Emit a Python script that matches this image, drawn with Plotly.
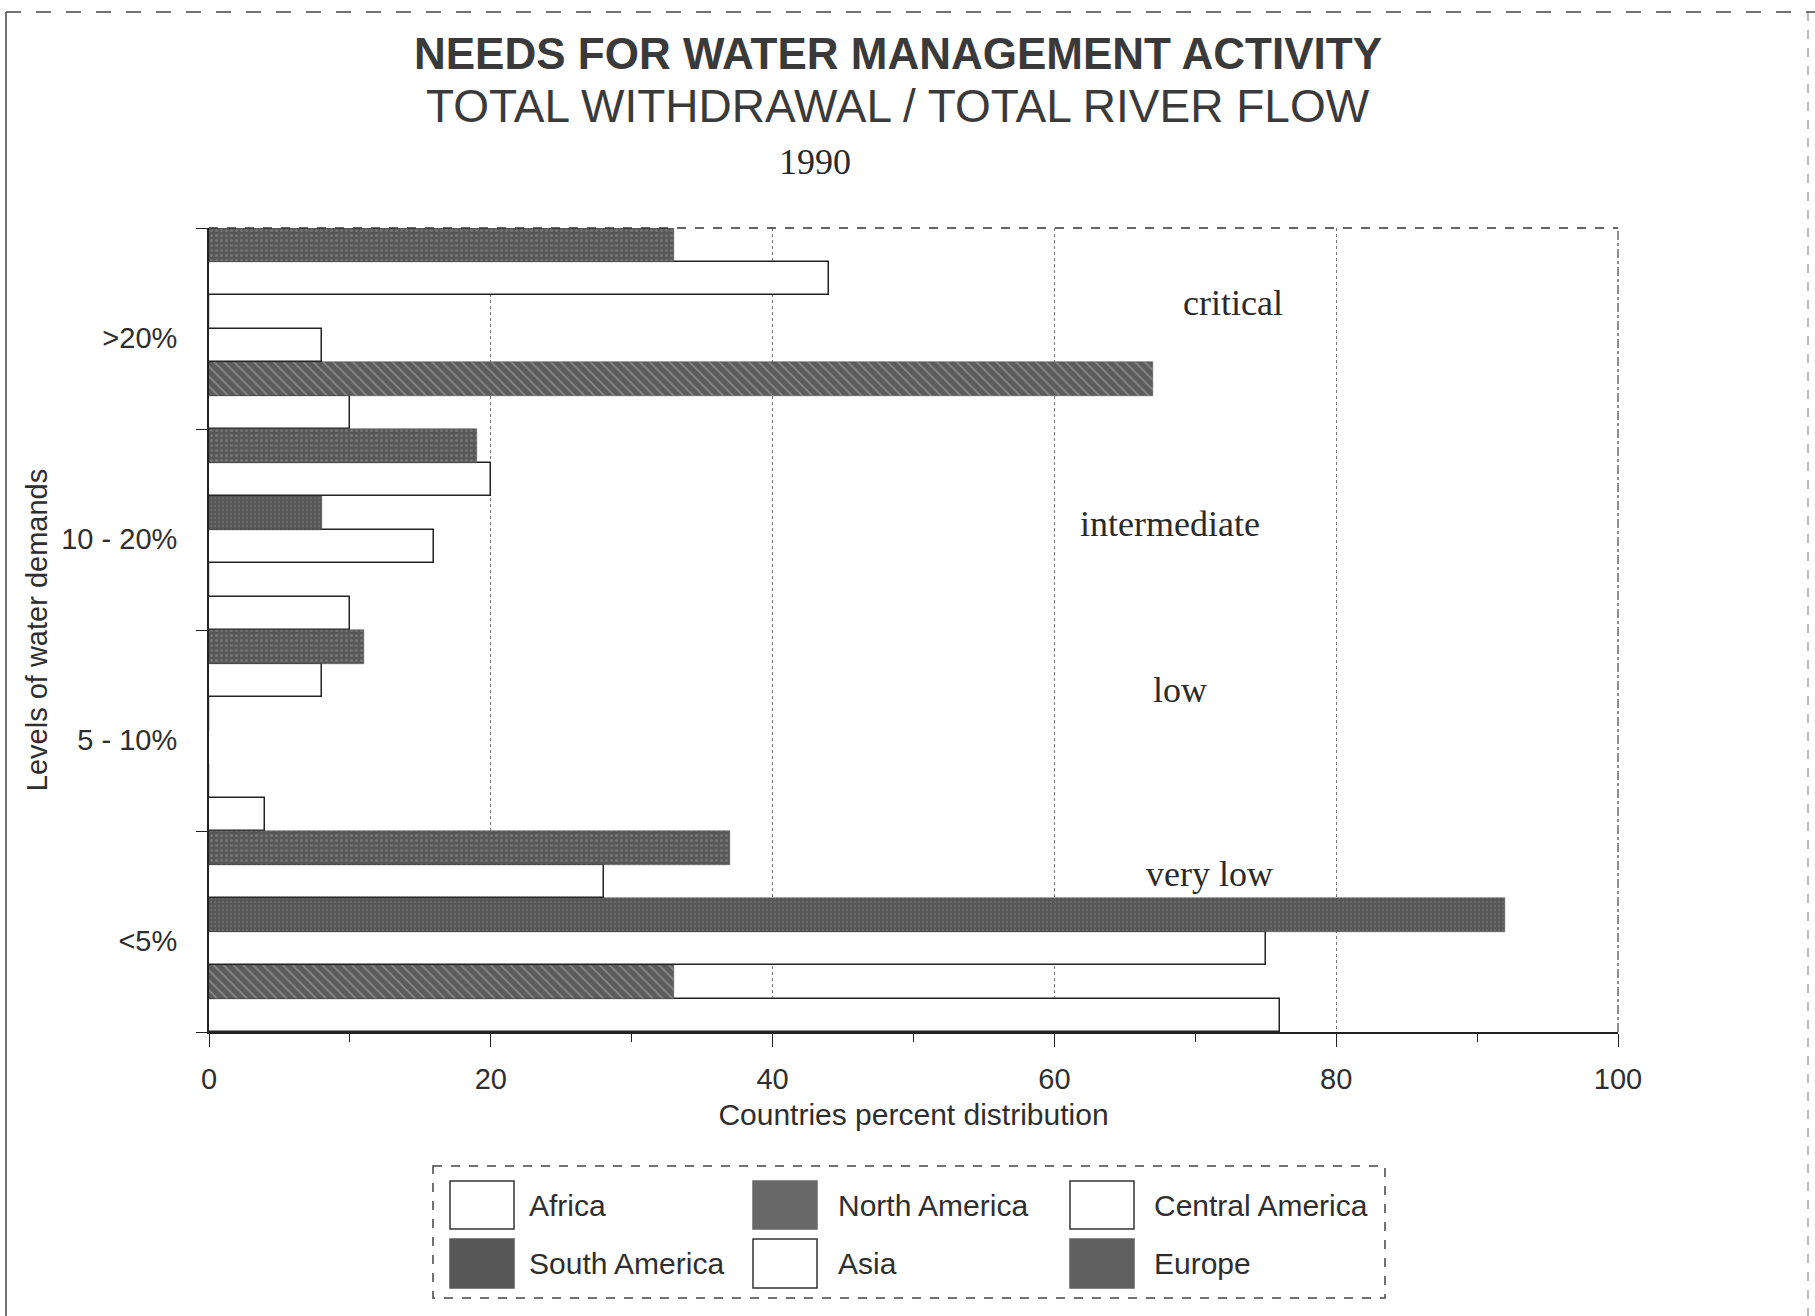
import plotly.graph_objects as go

# Demand levels, listed bottom-to-top on the category axis
levels = ["<5%", "5 - 10%", "10 - 20%", ">20%"]

# Countries percent distribution per region, same order as `levels`
africa = [76, 4, 10, 10]
north_america = [33, 0, 0, 67]
central_america = [75, 0, 16, 8]
south_america = [92, 0, 8, 0]
asia = [28, 8, 20, 44]
europe = [37, 11, 19, 33]

regions = ["Africa", "North America", "Central America", "South America", "Asia", "Europe"]
values = [africa, north_america, central_america, south_america, asia, europe]

x_ticks = [0, 20, 40, 60, 80, 100]

band_labels = ["critical", "intermediate", "low", "very low"]

# Figure geometry (pixels)
W, H = 1815, 1316
PL, PR, PT, PB = 209, 1618, 228, 1032

SANS = "Liberation Sans, Arial, sans-serif"
SERIF = "Liberation Serif, Times New Roman, serif"
INK = "#2e2e2e"


def fx(px):
    return (px - PL) / (PR - PL)


def fy(py):
    return (PB - py) / (PB - PT)


styles = {
    "Africa": dict(color="white", line=dict(color="#222", width=1.5)),
    "North America": dict(color="#5c5c5c", line=dict(color="#4a4a4a", width=0.5),
                          pattern=dict(shape="\\", fgcolor="#c4c4c4", size=7, solidity=0.22)),
    "Central America": dict(color="white", line=dict(color="#222", width=1.5)),
    "South America": dict(color="#555555", line=dict(color="#4a4a4a", width=0.5),
                          pattern=dict(shape=".", fgcolor="#7c7c7c", size=4, solidity=0.3)),
    "Asia": dict(color="white", line=dict(color="#222", width=1.5)),
    "Europe": dict(color="#585858", line=dict(color="#4a4a4a", width=0.5),
                   pattern=dict(shape=".", fgcolor="#8e8e8e", size=5, solidity=0.3)),
}

fig = go.Figure()
for name, vals in zip(regions, values):
    fig.add_trace(go.Bar(
        x=vals, y=levels, orientation="h", name=name,
        marker=styles[name], showlegend=False,
    ))

fig.update_layout(
    width=W, height=H,
    margin=dict(l=PL, r=W - PR, t=PT, b=H - PB, autoexpand=False),
    paper_bgcolor="white", plot_bgcolor="white",
    barmode="group", bargap=0, bargroupgap=0,
    font=dict(family=SANS, color=INK),
)

fig.update_xaxes(
    range=[0, 100], tickvals=x_ticks, ticks="outside", ticklen=13, tickwidth=1.2,
    tickcolor="#222", tickfont=dict(size=29, color=INK), ticklabelstandoff=7,
    showline=True, linecolor="#222", linewidth=1.8,
    showgrid=True, gridcolor="#777", griddash="dot", gridwidth=1,
    minor=dict(dtick=10, ticks="outside", ticklen=8, tickcolor="#222", showgrid=False),
    zeroline=False,
    title=dict(text="Countries percent distribution", font=dict(size=30, color=INK), standoff=10),
)

fig.update_yaxes(
    type="category", categoryorder="array", categoryarray=levels,
    tickson="boundaries", ticks="outside", ticklen=11, tickwidth=1.2, tickcolor="#222",
    tickfont=dict(size=29, color=INK), ticklabelstandoff=24, ticklabelshift=9,
    showline=True, linecolor="#222", linewidth=1.8, showgrid=False,
    title=dict(text="Levels of water demands", font=dict(size=29, color=INK), standoff=5),
)

shapes = []
# dashed top and right borders of the plotting area
shapes.append(dict(type="line", xref="paper", yref="paper", x0=0, x1=1, y0=1, y1=1,
                   line=dict(color="#333", width=1.5, dash="dash")))
shapes.append(dict(type="line", xref="paper", yref="paper", x0=1, x1=1, y0=0, y1=1,
                   line=dict(color="#444", width=1.2, dash="dashdot")))
# outer frame of the page
shapes.append(dict(type="line", xref="paper", yref="paper", x0=fx(6), x1=fx(6), y0=fy(12), y1=fy(1320),
                   line=dict(color="#444", width=1.5)))
shapes.append(dict(type="line", xref="paper", yref="paper", x0=fx(6), x1=fx(1815), y0=fy(12), y1=fy(12),
                   line=dict(color="#444", width=1.5, dash="longdash")))
shapes.append(dict(type="line", xref="paper", yref="paper", x0=fx(1808), x1=fx(1808), y0=fy(12), y1=fy(1320),
                   line=dict(color="#777", width=1, dash="dash")))

annotations = []
annotations.append(dict(text="<b>NEEDS FOR WATER MANAGEMENT ACTIVITY</b>", xref="paper", yref="paper",
                        x=fx(898), y=fy(54), xanchor="center", yanchor="middle", showarrow=False,
                        font=dict(family=SANS, size=44, color="#3a3a3a")))
annotations.append(dict(text="TOTAL WITHDRAWAL / TOTAL RIVER FLOW", xref="paper", yref="paper",
                        x=fx(898), y=fy(106), xanchor="center", yanchor="middle", showarrow=False,
                        font=dict(family=SANS, size=46, color="#3a3a3a")))
annotations.append(dict(text="1990", xref="paper", yref="paper",
                        x=fx(815), y=fy(162), xanchor="center", yanchor="middle", showarrow=False,
                        font=dict(family=SERIF, size=36, color="#2a2a2a")))

# demand band labels inside the plot
band_pos = [(72.7, 0.907), (68.2, 0.632), (68.9, 0.425), (71.0, 0.197)]
for label, (bx, by) in zip(band_labels, band_pos):
    annotations.append(dict(text=label, xref="x", yref="y domain", x=bx, y=by,
                            xanchor="center", yanchor="middle", showarrow=False,
                            font=dict(family=SERIF, size=36, color="#2a2a2a")))

# legend drawn as a boxed 3 x 2 key with large swatches
shapes.append(dict(type="rect", xref="paper", yref="paper", x0=fx(433), x1=fx(1385), y0=fy(1166), y1=fy(1298),
                   line=dict(color="#444", width=1.5, dash="dash"), fillcolor="rgba(0,0,0,0)"))
col_x = [450, 753, 1070]
row_y = [(1181, 1229), (1239, 1288)]
text_x = [527, 836, 1152]
swatch_fill = {
    "Africa": "white", "North America": "#686868", "Central America": "white",
    "South America": "#585858", "Asia": "white", "Europe": "#606060",
}
for i, name in enumerate(regions):
    r, c = divmod(i, 3)
    y0, y1 = row_y[r]
    fill = swatch_fill[name]
    shapes.append(dict(type="rect", xref="paper", yref="paper",
                       x0=fx(col_x[c]), x1=fx(col_x[c] + 64), y0=fy(y1), y1=fy(y0),
                       fillcolor=fill,
                       line=dict(color="#333" if fill == "white" else fill, width=1.5)))
    annotations.append(dict(text=name, xref="paper", yref="paper",
                            x=fx(text_x[c]), y=fy((y0 + y1) / 2), xanchor="left", yanchor="middle",
                            showarrow=False, font=dict(family=SANS, size=30, color=INK)))

fig.update_layout(shapes=shapes, annotations=annotations)

fig.write_html("out.html")
